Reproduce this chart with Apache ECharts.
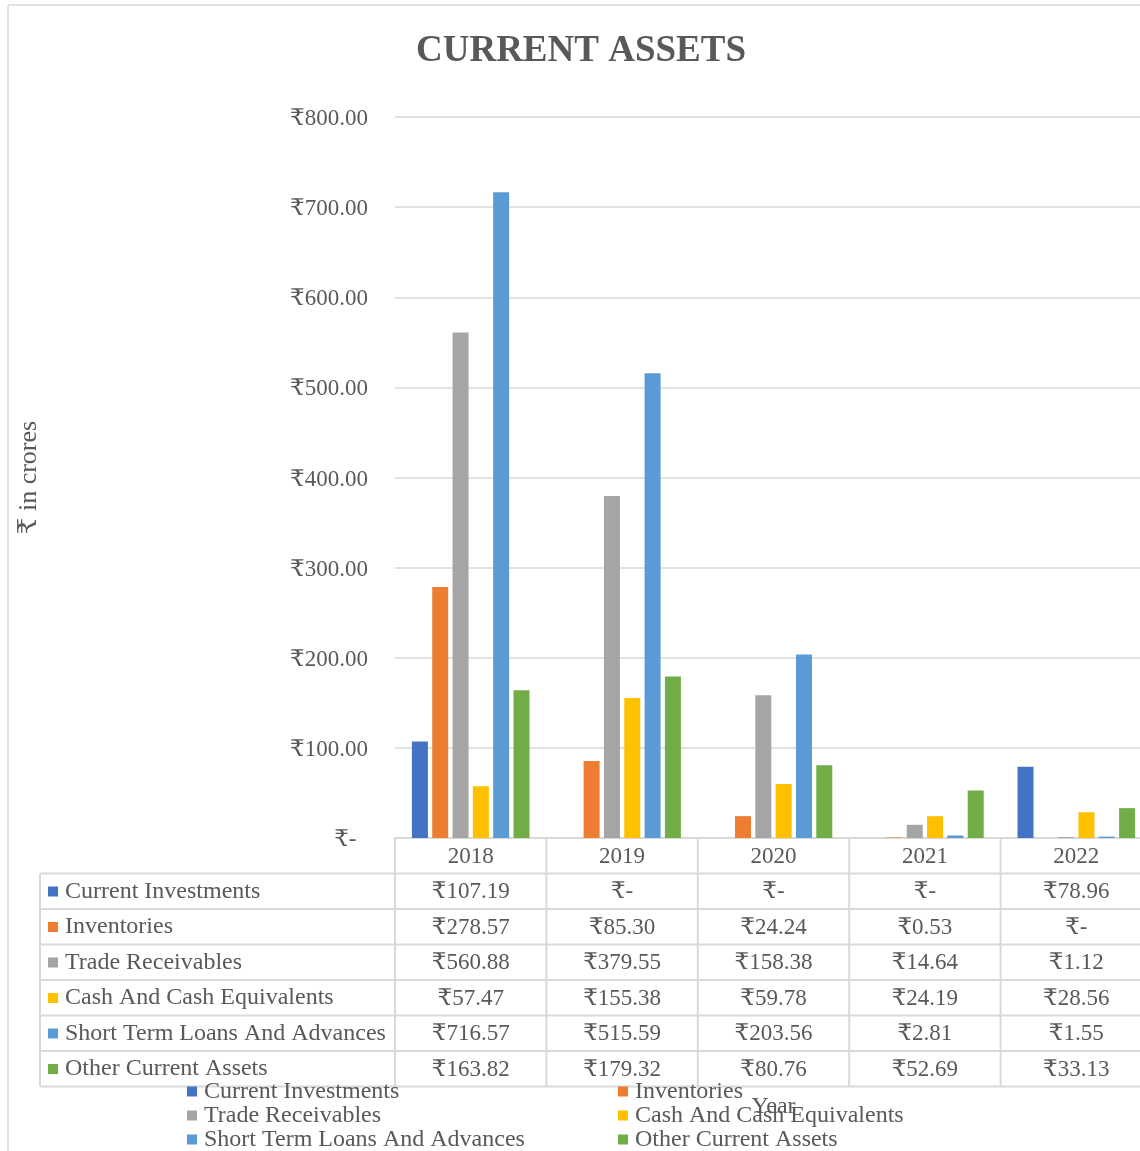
<!DOCTYPE html>
<html>
<head>
<meta charset="utf-8">
<script src="https://cdn.jsdelivr.net/npm/echarts@6/dist/echarts.min.js"></script>
<style>
html,body{margin:0;padding:0;background:#fff;}
#main{width:1140px;height:1151px;}
</style>
</head>
<body>
<div id="main"></div>
<script>
var years = ['2018', '2019', '2020', '2021', '2022'];
var seriesNames = ['Current Investments', 'Inventories', 'Trade Receivables', 'Cash And Cash Equivalents', 'Short Term Loans And Advances', 'Other Current Assets'];
var currentInvestments = [107.19, 0, 0, 0, 78.96];
var inventories = [278.57, 85.30, 24.24, 0.53, 0];
var tradeReceivables = [560.88, 379.55, 158.38, 14.64, 1.12];
var cashEquivalents = [57.47, 155.38, 59.78, 24.19, 28.56];
var shortTermLoans = [716.57, 515.59, 203.56, 2.81, 1.55];
var otherCurrentAssets = [163.82, 179.32, 80.76, 52.69, 33.13];
var colors = ['#4472C4', '#ED7D31', '#A5A5A5', '#FFC000', '#5B9BD5', '#70AD47'];

var allValues = [currentInvestments, inventories, tradeReceivables, cashEquivalents, shortTermLoans, otherCurrentAssets];
var FONT = '"Liberation Serif", "Times New Roman", "DejaVu Serif", serif';
var TXT = '#595959';
var LINE = '#d9d9d9';
var ROWH = 35.5;

function fmt(v) { return v === 0 ? '\u20B9-' : '\u20B9' + v.toFixed(2); }

var chart = echarts.init(document.getElementById('main'), null, {renderer: 'canvas'});

var series = seriesNames.map(function (n, i) {
  return {
    name: n, type: 'bar', data: allValues[i],
    barWidth: 16, barGap: '27%',
    itemStyle: {color: colors[i]}
  };
});

function legendCfg(names, left, top, gap) {
  return {
    orient: 'vertical', left: left, top: top, height: 230, padding: 0,
    itemGap: gap, itemWidth: 10, itemHeight: 10, icon: 'rect',
    selectedMode: false,
    data: names,
    textStyle: {fontFamily: FONT, fontSize: 24, color: TXT, padding: [0, 0, 0, 2]}
  };
}

var option = {
  animation: false,
  backgroundColor: '#fff',
  color: colors,
  title: {
    text: 'CURRENT ASSETS', left: 576, top: 28, textAlign: 'center',
    textStyle: {fontFamily: FONT, fontSize: 37, fontWeight: 'bold', color: TXT}
  },
  legend: [
    legendCfg(seriesNames, 48, 879.5, ROWH - 24),
    legendCfg([seriesNames[0], seriesNames[2], seriesNames[4]], 187, 1079.5, 0),
    legendCfg([seriesNames[1], seriesNames[3], seriesNames[5]], 618, 1079.5, 0)
  ],
  grid: {left: 395, top: 117, width: 757, height: 721, containLabel: false, outerBoundsMode: 'none'},
  xAxis: {
    type: 'category', data: years,
    name: 'Year', nameLocation: 'middle', nameGap: 257,
    nameTextStyle: {fontFamily: FONT, fontSize: 24, color: TXT},
    axisLine: {show: true, lineStyle: {color: LINE, width: 2}},
    axisTick: {show: false},
    axisLabel: {
      margin: 1, interval: 0,
      fontFamily: FONT, fontSize: 23, color: TXT, lineHeight: ROWH,
      formatter: function (val, idx) {
        var lines = [val];
        for (var s = 0; s < allValues.length; s++) lines.push(fmt(allValues[s][idx]));
        return lines.join('\n');
      }
    }
  },
  yAxis: {
    type: 'value', min: 0, max: 800, interval: 100,
    name: '\u20B9 in crores', nameLocation: 'middle', nameGap: 353, nameRotate: 90,
    nameTextStyle: {fontFamily: FONT, fontSize: 26, color: TXT},
    axisLine: {show: false}, axisTick: {show: false},
    splitLine: {lineStyle: {color: LINE, width: 1.5}},
    axisLabel: {
      margin: 27, fontFamily: FONT, fontSize: 23, color: TXT,
      rich: {v: {fontFamily: FONT, fontSize: 23, color: TXT, padding: [4, 0, 0, 0]}},
      formatter: function (v) { return '{v|' + (v === 0 ? '\u20B9-  ' : '\u20B9' + v.toFixed(2)) + '}'; }
    }
  },
  series: series
};
chart.setOption(option);

// table lines aligned with the category axis
var c0 = chart.convertToPixel({xAxisIndex: 0}, 0);
var c1 = chart.convertToPixel({xAxisIndex: 0}, 1);
var band = c1 - c0;
var axisY = chart.convertToPixel({yAxisIndex: 0}, 0);
var tableTop = axisY;
var headerBottom = tableTop + ROWH;
var tableBottom = headerBottom + ROWH * allValues.length;
var rightEdge = c0 - band / 2 + band * years.length;
var g = [];
var ls = {stroke: LINE, lineWidth: 2};
g.push({type: 'line', shape: {x1: 8, y1: 5, x2: 1140, y2: 5}, style: {stroke: LINE, lineWidth: 1.5}, silent: true});
g.push({type: 'line', shape: {x1: 8, y1: 5, x2: 8, y2: 1151}, style: {stroke: LINE, lineWidth: 1.5}, silent: true});
for (var r = 0; r <= allValues.length; r++) {
  var y = headerBottom + r * ROWH;
  g.push({type: 'line', shape: {x1: 40, y1: y, x2: rightEdge, y2: y}, style: ls, silent: true});
}
g.push({type: 'line', shape: {x1: 40, y1: headerBottom, x2: 40, y2: tableBottom}, style: ls, silent: true});
for (var k = 0; k <= years.length; k++) {
  var x = c0 - band / 2 + k * band;
  g.push({type: 'line', shape: {x1: x, y1: tableTop, x2: x, y2: tableBottom}, style: ls, silent: true});
}
chart.setOption({graphic: g});
</script>
</body>
</html>
